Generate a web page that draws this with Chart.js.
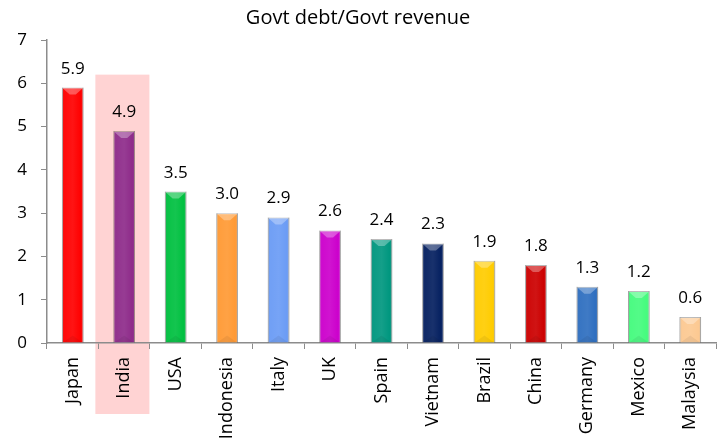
<!DOCTYPE html>
<html>
<head>
<meta charset="utf-8">
<title>Govt debt/Govt revenue</title>
<script src="https://cdn.jsdelivr.net/npm/chart.js@4/dist/chart.umd.min.js"></script>
<style>
  html, body { margin: 0; padding: 0; background: #fff; }
  #wrap { width: 725px; height: 443px; position: relative; }
</style>
</head>
<body>
<div id="wrap"><canvas id="debtChart"></canvas></div>
<script>
// ---- data ----
const countries = ['Japan', 'India', 'USA', 'Indonesia', 'Italy', 'UK', 'Spain',
                   'Vietnam', 'Brazil', 'China', 'Germany', 'Mexico', 'Malaysia'];
const debtToRevenue = [5.9, 4.9, 3.5, 3.0, 2.9, 2.6, 2.4, 2.3, 1.9, 1.8, 1.3, 1.2, 0.6];
const barColors = ['#ff0000', '#8e2b8a', '#00c040', '#ff9a35', '#6b9cf5', '#cc00cc', '#00977f',
                   '#052060', '#ffcc00', '#cc0000', '#2f6fc0', '#45fb7e', '#fcc992'];
const yTicks = [0, 1, 2, 3, 4, 5, 6, 7];
const highlighted = 'India';

const FONT = '"Open Sans", Lato, sans-serif';

// pink band behind the highlighted country, drawn under everything
const highlightBand = {
  id: 'highlightBand',
  beforeDraw(chart) {
    const { ctx, scales: { x, y } } = chart;
    const i = countries.indexOf(highlighted);
    const cat = (x.right - x.left) / countries.length;
    const cx = x.getPixelForValue(i);
    const top = y.getPixelForValue(6.2);
    ctx.save();
    ctx.fillStyle = '#ffd3d3';
    ctx.fillRect(cx - cat * 0.56, top, cat * 1.05, 414 - top);
    ctx.restore();
  }
};

// shading + bevelled top on each bar, then the value label
const barDressing = {
  id: 'barDressing',
  afterDatasetsDraw(chart) {
    const { ctx } = chart;
    const meta = chart.getDatasetMeta(0);
    ctx.save();
    meta.data.forEach((bar, i) => {
      const { x, y, base, width } = bar.getProps(['x', 'y', 'base', 'width'], true);
      const l = x - width / 2, r = x + width / 2;
      const g = ctx.createLinearGradient(l, 0, r, 0);
      g.addColorStop(0, 'rgba(0,0,0,0.18)');
      g.addColorStop(0.12, 'rgba(255,255,255,0.04)');
      g.addColorStop(0.5, 'rgba(255,255,255,0.08)');
      g.addColorStop(0.88, 'rgba(255,255,255,0.0)');
      g.addColorStop(1, 'rgba(0,0,0,0.22)');
      ctx.fillStyle = g;
      ctx.fillRect(l, y, width, base - y);

      // bevel at the top
      const bh = Math.min(7, (base - y) / 2);
      ctx.fillStyle = 'rgba(255,255,255,0.3)';
      ctx.beginPath();
      ctx.moveTo(l + 1, y + 1);
      ctx.lineTo(r - 1, y + 1);
      ctx.lineTo(x + 3, y + bh);
      ctx.lineTo(x - 3, y + bh);
      ctx.closePath();
      ctx.fill();
      // faint bevel at the base
      ctx.fillStyle = 'rgba(0,0,0,0.06)';
      ctx.beginPath();
      ctx.moveTo(l + 1, base);
      ctx.lineTo(r - 1, base);
      ctx.lineTo(x, base - bh);
      ctx.closePath();
      ctx.fill();

      ctx.fillStyle = '#000';
      ctx.font = '17px ' + FONT;
      ctx.textAlign = 'center';
      ctx.textBaseline = 'alphabetic';
      ctx.fillText(debtToRevenue[i].toFixed(1), x, y - 14);
    });
    ctx.restore();
  }
};

new Chart(document.getElementById('debtChart'), {
  type: 'bar',
  data: {
    labels: countries,
    datasets: [{
      data: debtToRevenue,
      backgroundColor: barColors,
      borderColor: 'rgba(0,0,0,0.28)',
      borderWidth: 1,
      barPercentage: 0.42,
      categoryPercentage: 1.0
    }]
  },
  options: {
    responsive: true,
    maintainAspectRatio: false,
    animation: false,
    layout: { padding: { right: 9, left: 0, bottom: 0, top: 0 } },
    plugins: {
      legend: { display: false },
      tooltip: { enabled: false },
      title: {
        display: true,
        text: 'Govt debt/Govt revenue',
        color: '#000',
        font: { family: FONT, size: 20, weight: 'normal' },
        padding: { top: 6, bottom: 10 }
      }
    },
    scales: {
      x: {
        grid: {
          offset: true,
          drawOnChartArea: false,
          tickLength: 6,
          color: '#8c8c8c'
        },
        border: { color: '#8c8c8c', width: 1.5 },
        ticks: {
          color: '#000',
          font: { family: FONT, size: 18 },
          minRotation: 90,
          maxRotation: 90,
          padding: 8,
          autoSkip: false
        },
        afterFit(scale) { scale.height = 100; }
      },
      y: {
        min: yTicks[0],
        max: yTicks[yTicks.length - 1],
        afterBuildTicks(scale) { scale.ticks = yTicks.map(v => ({ value: v })); },
        grid: {
          drawOnChartArea: false,
          tickLength: 6,
          color: '#8c8c8c'
        },
        border: { color: '#8c8c8c', width: 1.5 },
        ticks: {
          color: '#000',
          font: { family: FONT, size: 17 },
          padding: 14
        },
        afterFit(scale) { scale.width = 47; }
      }
    }
  },
  plugins: [highlightBand, barDressing]
});
</script>
</body>
</html>
